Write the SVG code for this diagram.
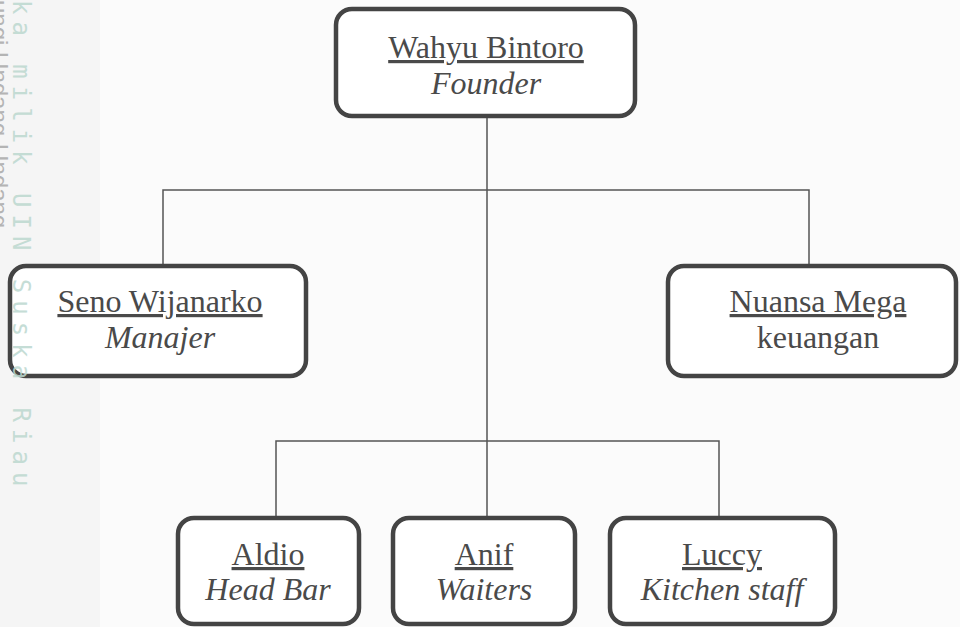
<svg xmlns="http://www.w3.org/2000/svg" width="960" height="627" viewBox="0 0 960 627">
<style>
.box{fill:#ffffff;stroke:#444444;stroke-width:4.5}
.name{font-family:"Liberation Serif",serif;font-size:32px;fill:#4a4a4a;text-anchor:middle;text-decoration:underline}
.role{font-family:"Liberation Serif",serif;font-size:32px;fill:#4a4a4a;text-anchor:middle;font-style:italic}
.plain{font-family:"Liberation Serif",serif;font-size:32px;fill:#4a4a4a;text-anchor:middle}
.wm1{font-family:"DejaVu Sans Mono",monospace;font-size:24px;fill:#bcd8cf;letter-spacing:7px;opacity:0.85}
.wm2{font-family:"Liberation Sans",sans-serif;font-size:24px;fill:#b4b4b4}
.conn{fill:none;stroke:#555555;stroke-width:1.5}
</style>
<rect width="960" height="627" fill="#fbfbfb"/>
<rect width="100" height="627" fill="#f5f5f5"/>
<g id="connectors">
<path class="conn" d="M487,117 V517"/>
<path class="conn" d="M163,265 V190 H809 V265"/>
<path class="conn" d="M276,517 V441 H719 V517"/>
</g>
<g id="wahyu">
<rect class="box" x="336" y="9" width="299" height="107" rx="16"/>
<text class="name" x="486" y="58">Wahyu Bintoro</text>
<text class="role" x="486" y="94">Founder</text>
</g>
<g id="seno">
<rect class="box" x="10" y="266" width="296" height="110" rx="16"/>
<text class="name" x="160" y="312">Seno Wijanarko</text>
<text class="role" x="160" y="348">Manajer</text>
</g>
<g id="nuansa">
<rect class="box" x="668" y="266" width="288" height="110" rx="16"/>
<text class="name" x="818" y="312">Nuansa Mega</text>
<text class="plain" x="818" y="348">keuangan</text>
</g>
<g id="aldio">
<rect class="box" x="178" y="518" width="181" height="106" rx="16"/>
<text class="name" x="268" y="565">Aldio</text>
<text class="role" x="268" y="600">Head Bar</text>
</g>
<g id="anif">
<rect class="box" x="393" y="518" width="182" height="106" rx="16"/>
<text class="name" x="484" y="565">Anif</text>
<text class="role" x="484" y="600">Waiters</text>
</g>
<g id="luccy">
<rect class="box" x="610" y="518" width="225" height="106" rx="16"/>
<text class="name" x="722" y="565">Luccy</text>
<text class="role" x="722" y="600">Kitchen staff</text>
</g>
<g id="watermark">
<text class="wm1" transform="translate(13,0) rotate(90)" x="0" y="0">ka milik UIN Suska Riau</text>
<text class="wm2" transform="translate(-9,0) rotate(90)" x="0" y="0">ungi Undang-Undang</text>
</g>
</svg>
